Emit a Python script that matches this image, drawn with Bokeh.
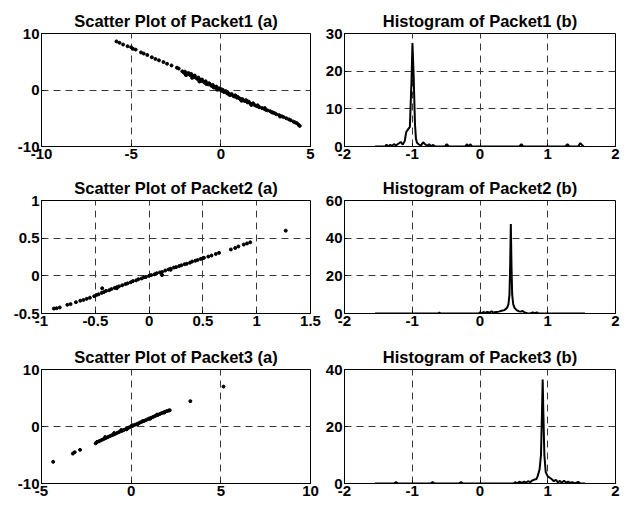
from bokeh.plotting import figure
from bokeh.layouts import column, row
from bokeh.models import FixedTicker, Range1d, CustomJSTickFormatter
from bokeh.embed import file_html
from bokeh.resources import INLINE

# ---------------- data ----------------
s1_x = [-5.82, -5.65, -5.45, -5.2, -5.0, -4.9, -4.75, -4.45, -4.3, -4.1, -3.85, -3.65, -3.45, -3.2, -3.0,
        -2.75, -2.45, -2.35,
        -2.15, -2.05, -2.0, -1.9, -1.85, -1.8, -1.7, -1.65, -1.55, -1.5, -1.45, -1.35, -1.3, -1.25, -1.15,
        -1.1, -1.05, -0.95, -0.9, -0.85, -0.75, -0.7, -0.65, -0.55, -0.5, -0.45, -0.35, -0.3, -0.25, -0.15,
        -0.1, -0.05, 0.0, 0.05, 0.1, 0.15, 0.2, 0.25, 0.35, 0.4, 0.45, 0.55, 0.6, 0.7, 0.75, 0.8, 0.9, 0.95,
        1.05, 1.1, 1.2, 1.25, 1.35, 1.4, 1.5, 1.55, 1.65, 1.75, 1.8, 1.9, 2.0, 2.05, 2.15, 2.3, 2.4, 2.5, 2.6,
        2.75, 2.85, 3.0, 3.1, 3.25, 3.4, 3.5, 3.65, 3.8, 3.9, 4.05, 4.15, 4.25, 4.35, 4.4,
        -1.95, -1.6, -1.2, -0.8, -0.4, -0.2, 0.3, 0.5, 0.85, 1.15, 1.45, 1.7, 2.1, 2.45, 2.9, 3.3]
s1_y = [8.6, 8.35, 8.05, 7.75, 7.55, 7.3, 7.15, 6.65, 6.45, 6.2, 5.8, 5.5, 5.25, 4.95, 4.65,
        4.35, 3.95, 3.8,
        3.3, 3.05, 3.25, 2.95, 2.75, 3.0, 2.6, 2.85, 2.45, 2.25, 2.55, 2.1, 1.95, 2.2, 1.8,
        1.6, 1.85, 1.45, 1.3, 1.55, 1.15, 1.0, 1.2, 0.85, 0.7, 0.9, 0.55, 0.4, 0.6, 0.25,
        0.1, 0.3, 0.0, -0.15, 0.05, -0.3, -0.35, -0.2, -0.6, -0.5, -0.75, -0.85, -0.7, -1.05, -1.15, -0.95, -1.35, -1.25,
        -1.5, -1.65, -1.6, -1.85, -1.95, -1.8, -2.2, -2.05, -2.4, -2.5, -2.35, -2.7, -2.85, -2.7, -3.05, -3.2, -3.3, -3.5, -3.6,
        -3.75, -3.95, -4.1, -4.3, -4.45, -4.65, -4.8, -5.0, -5.2, -5.35, -5.6, -5.75, -5.9, -6.2, -6.35,
        2.65, 2.15, 1.5, 1.05, 0.45, 0.05, -0.25, -0.9, -1.1, -1.9, -2.0, -2.65, -2.95, -3.2, -4.0, -4.7]

s2_x = [-0.885, -0.86, -0.83, -0.76, -0.73, -0.68, -0.64, -0.61, -0.58, -0.55, -0.51, -0.49, -0.436,
        -0.47, -0.44, -0.42, -0.40, -0.37, -0.35, -0.32, -0.30, -0.30, -0.28, -0.25, -0.22, -0.20, -0.17,
        -0.15, -0.12, -0.10, -0.07, -0.05, -0.03, 0.0, 0.02, 0.05, 0.07, 0.10, 0.12, 0.12, 0.15, 0.18,
        0.20, 0.20, 0.23, 0.25, 0.28, 0.30, 0.33, 0.35, 0.38, 0.40, 0.43, 0.45, 0.48, 0.50, 0.51,
        0.55, 0.58, 0.62, 0.65, 0.76, 0.80, 0.83, 0.88, 0.91, 0.94, 1.27]
s2_y = [-0.435, -0.43, -0.42, -0.385, -0.375, -0.35, -0.33, -0.32, -0.305, -0.29, -0.27, -0.255, -0.165,
        -0.245, -0.225, -0.215, -0.20, -0.19, -0.175, -0.16, -0.15, -0.165, -0.14, -0.125, -0.11, -0.10, -0.085,
        -0.07, -0.06, -0.045, -0.035, -0.02, -0.015, 0.0, 0.01, 0.02, 0.035, 0.045, 0.05, 0.01, 0.07, 0.085,
        0.095, 0.08, 0.11, 0.115, 0.13, 0.14, 0.155, 0.16, 0.175, 0.19, 0.20, 0.21, 0.225, 0.235, 0.24,
        0.255, 0.27, 0.29, 0.305, 0.35, 0.37, 0.39, 0.415, 0.43, 0.445, 0.60]

s3_x = [-4.35, -3.25, -3.15, -2.85,
        -1.98, -1.9, -1.8, -1.7, -1.6, -1.5, -1.4, -1.3, -1.2, -1.1, -1.0, -0.9, -0.8, -0.7, -0.6, -0.5,
        -0.4, -0.3, -0.2, -0.1, 0.0, 0.1, 0.2, 0.3, 0.4, 0.5, 0.6, 0.7, 0.8, 0.9, 1.0, 1.1, 1.2, 1.3,
        1.4, 1.5, 1.6, 1.7, 1.8, 1.9, 2.0, 2.1, 2.15,
        -1.45, -0.95, -0.55, -0.25, 0.05, 0.35, 0.65, 1.05, 1.45, 1.85,
        3.3, 5.15]
s3_y = [-6.2, -4.75, -4.5, -4.1,
        -2.95, -2.7, -2.6, -2.45, -2.3, -2.15, -2.0, -1.85, -1.7, -1.55, -1.45, -1.3, -1.15, -1.0, -0.85, -0.75,
        -0.6, -0.45, -0.3, -0.15, 0.0, 0.15, 0.3, 0.4, 0.55, 0.7, 0.85, 0.95, 1.1, 1.25, 1.4, 1.5, 1.65, 1.8,
        1.95, 2.05, 2.2, 2.35, 2.45, 2.6, 2.7, 2.8, 2.85,
        -1.85, -1.15, -0.6, -0.5, 0.2, 0.35, 0.95, 1.35, 2.1, 2.45,
        4.45, 7.0]

h1_x = [-1.55, -1.40, -1.38, -1.36, -1.33, -1.30, -1.27, -1.24, -1.20, -1.17, -1.14, -1.11, -1.09, -1.06,
        -1.035, -1.01, -0.997, -0.978, -0.96, -0.945, -0.93, -0.90, -0.87, -0.84, -0.81, -0.78, -0.75, -0.72,
        -0.69, -0.66, -0.52, -0.49, -0.46, -0.22, -0.19, -0.17, -0.14, -0.12, 0.58, 0.61, 0.64, 1.26, 1.29,
        1.32, 1.45, 1.48, 1.51, 1.53]
h1_y = [0, 0, 0.5, 0, 0.4, 0.2, 0.6, 0.3, 0.8, 1.2, 0.5, 1.5, 3.8, 4.6,
        5.2, 18, 27.5, 18, 6, 2.0, 1.0, 0.5, 0.3, 1.1, 0.6, 0.2, 0.6, 0.1,
        0.4, 0, 0, 0.6, 0, 0, 0.6, 0, 0.6, 0, 0, 0.6, 0, 0, 0.6,
        0, 0, 0.9, 0.3, 0]

h2_x = [-1.55, -0.62, -0.60, -0.58, -0.02, 0.0, 0.02, 0.05, 0.08, 0.11, 0.14, 0.17, 0.20, 0.24, 0.28,
        0.32, 0.36, 0.40, 0.42, 0.435, 0.445, 0.455, 0.465, 0.475, 0.49, 0.51, 0.54, 0.57, 0.60, 0.63,
        0.66, 0.70, 0.74, 0.78, 0.80, 0.84, 0.86, 1.55]
h2_y = [0, 0, 0.5, 0, 0, 0.6, 0, 0.8, 0.3, 0.9, 0.4, 1.2, 0.5, 0.8, 1.0,
        1.5, 1.8, 3.0, 5.0, 10, 25, 47.5, 25, 10, 5.0, 3.0, 1.8, 1.2, 1.0, 1.3,
        0.5, 0.2, 0, 0.6, 0, 0.6, 0, 0]

h3_x = [-1.55, -1.27, -1.24, -1.21, -0.73, -0.70, -0.67, -0.31, -0.28, -0.25, 0.50, 0.52, 0.55, 0.58,
        0.62, 0.65, 0.68, 0.71, 0.74, 0.77, 0.80, 0.83, 0.85, 0.88, 0.90, 0.915, 0.925, 0.935, 0.95, 0.97,
        1.00, 1.03, 1.06, 1.09, 1.12, 1.15, 1.18, 1.21, 1.24, 1.27, 1.30, 1.33, 1.36, 1.40, 1.45, 1.48, 1.55]
h3_y = [0, 0, 0.5, 0, 0, 0.5, 0, 0, 0.5, 0, 0, 0.5, 0, 0.6,
        0.2, 0.7, 0.3, 0.8, 0.5, 1.0, 1.4, 1.5, 2.5, 5.0, 10, 25, 36.5, 25, 10, 4.0,
        2.5, 2.0, 1.5, 0.8, 1.3, 0.4, 0.9, 0.3, 1.0, 0.3, 0.7, 0.2, 0.5, 0, 0.6, 0, 0]

titles = ["Scatter Plot of Packet1 (a)", "Histogram of Packet1 (b)",
          "Scatter Plot of Packet2 (a)", "Histogram of Packet2 (b)",
          "Scatter Plot of Packet3 (a)", "Histogram of Packet3 (b)"]

s1_xticks = [-10, -5, 0, 5]
s1_yticks = [-10, 0, 10]
s2_xticks = [-1, -0.5, 0, 0.5, 1, 1.5]
s2_yticks = [-0.5, 0, 0.5, 1]
s3_xticks = [-5, 0, 5, 10]
s3_yticks = [-10, 0, 10]
h_xticks = [-2, -1, 0, 1, 2]
h1_yticks = [0, 10, 20, 30]
h2_yticks = [0, 20, 40, 60]
h3_yticks = [0, 20, 40]

FONT = "Liberation Sans"


def make_fig(title, xt, yt, w, h, bl, br, bt, bb):
    p = figure(width=w, height=h,
               x_range=Range1d(xt[0], xt[-1]), y_range=Range1d(yt[0], yt[-1]),
               output_backend="svg", toolbar_location=None,
               min_border_left=bl, min_border_right=br,
               min_border_top=bt, min_border_bottom=bb)
    p.title.text = title
    p.title.align = "center"
    p.title.text_font = FONT
    p.title.text_font_size = "16.5px"
    p.title.text_font_style = "bold"
    p.title.text_color = "black"
    p.title.standoff = 8
    p.outline_line_color = "black"
    p.outline_line_width = 1
    p.background_fill_color = "white"
    p.border_fill_color = "white"
    fmt = CustomJSTickFormatter(code="return tick.toString();")
    for ax, ticks in ((p.xaxis[0], xt), (p.yaxis[0], yt)):
        ax.ticker = FixedTicker(ticks=ticks)
        ax.formatter = fmt
        ax.major_tick_in = 3
        ax.major_tick_out = 0
        ax.minor_tick_in = 0
        ax.minor_tick_out = 0
        ax.axis_line_color = "black"
        ax.major_tick_line_color = "black"
        ax.major_label_text_font = FONT
        ax.major_label_text_font_size = "15px"
        ax.major_label_text_font_style = "bold"
        ax.major_label_text_color = "black"
        ax.major_label_standoff = 2
    for g in (p.xgrid[0], p.ygrid[0]):
        g.grid_line_color = "#3a3a3a"
        g.grid_line_dash = "7 5"
        g.grid_line_width = 1
    return p


LW, RW = 321, 305

p1 = make_fig(titles[0], s1_xticks, s1_yticks, LW, 165, 41, 11, 33, 19)
p1.scatter(s1_x, s1_y, size=3, color="black")
p2 = make_fig(titles[1], h_xticks, h1_yticks, RW, 165, 23, 11, 33, 19)
p2.line(h1_x, h1_y, line_width=2, color="black")

p3 = make_fig(titles[2], s2_xticks, s2_yticks, LW, 170, 41, 11, 35, 22)
p3.scatter(s2_x, s2_y, size=3, color="black")
p4 = make_fig(titles[3], h_xticks, h2_yticks, RW, 170, 23, 11, 35, 22)
p4.line(h2_x, h2_y, line_width=2, color="black")

p5 = make_fig(titles[4], s3_xticks, s3_yticks, LW, 170, 41, 11, 34, 22)
p5.scatter(s3_x, s3_y, size=3, color="black")
p6 = make_fig(titles[5], h_xticks, h3_yticks, RW, 170, 23, 11, 34, 22)
p6.line(h3_x, h3_y, line_width=2, color="black")

layout = column(row(p1, p2, spacing=0), row(p3, p4, spacing=0), row(p5, p6, spacing=0), spacing=0)

open("out.html", "w").write(file_html(layout, INLINE))
